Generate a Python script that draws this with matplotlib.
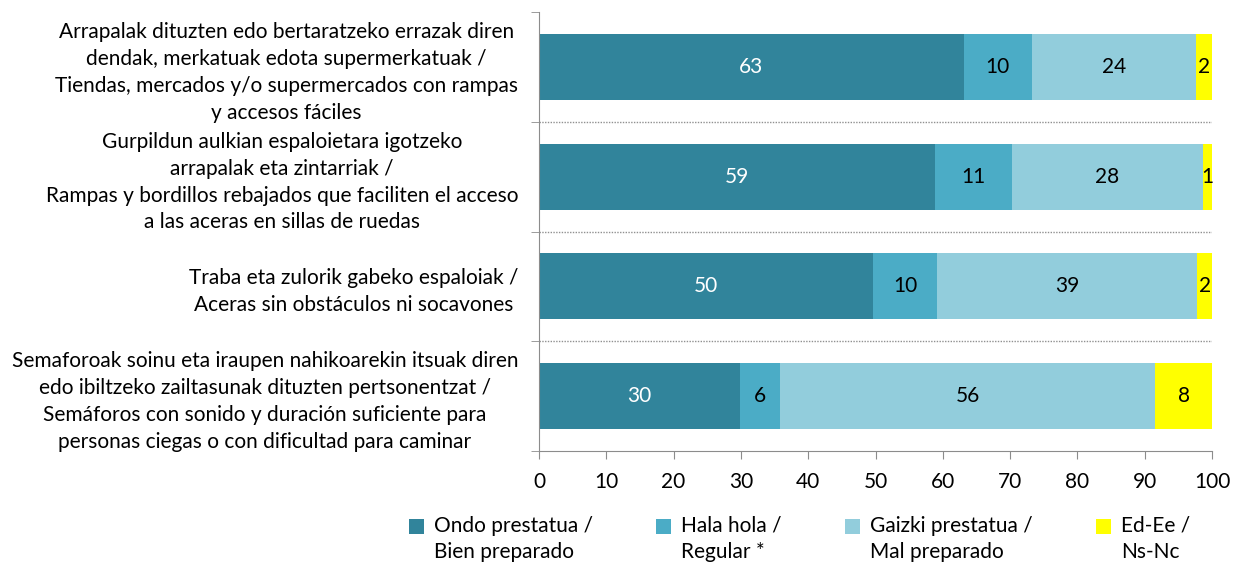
import matplotlib
matplotlib.use("Agg")
import matplotlib.pyplot as plt
from matplotlib.patches import Rectangle
import numpy as np

plt.rcParams['font.family'] = ['Lato', 'DejaVu Sans']

categorias = [
    "Arrapalak dituzten edo bertaratzeko errazak diren\ndendak, merkatuak edota supermerkatuak /\nTiendas, mercados y/o supermercados con rampas\ny accesos fáciles",
    "Gurpildun aulkian espaloietara igotzeko\narrapalak eta zintarriak /\nRampas y bordillos rebajados que faciliten el acceso\na las aceras en sillas de ruedas",
    "Traba eta zulorik gabeko espaloiak /\nAceras sin obstáculos ni socavones",
    "Semaforoak soinu eta iraupen nahikoarekin itsuak diren\nedo ibiltzeko zailtasunak dituzten pertsonentzat /\nSemáforos con sonido y duración suficiente para\npersonas ciegas o con dificultad para caminar",
]
ondo = [63.1, 58.9, 49.6, 29.8]
hala_hola = [10.1, 11.4, 9.6, 6.0]
gaizki = [24.4, 28.3, 38.6, 55.8]
ed_ee = [2.4, 1.4, 2.2, 8.4]

series = ["Ondo prestatua /\nBien preparado", "Hala hola /\nRegular *",
          "Gaizki prestatua /\nMal preparado", "Ed-Ee /\nNs-Nc"]
colores = ["#31849B", "#4BACC6", "#92CDDC", "#FFFF00"]
color_texto = ["white", "black", "black", "black"]

W, H = 1236, 565
fig = plt.figure(figsize=(W/100, H/100), dpi=100)
ax = fig.add_axes([539/W, 1-451/H, (1212-539)/W, (451-12)/H])

y = np.arange(len(categorias))
left = np.zeros(len(categorias))
for vals, col, tc in zip([ondo, hala_hola, gaizki, ed_ee], colores, color_texto):
    vals = np.array(vals)
    ax.barh(y, vals, left=left, height=0.6, color=col)
    for yi, l, v in zip(y, left, vals):
        ax.text(l + v/2, yi, f"{v:.0f}", ha="center", va="center",
                color=tc, fontsize=15)
    left += vals

for b in [0.5, 1.5, 2.5]:
    ax.axhline(b, color="#909090", linestyle=(0, (1, 1)), linewidth=1)

ax.set_xlim(0, 100)
ax.set_ylim(3.5, -0.5)
ax.set_xticks(range(0, 101, 10))
ax.set_yticks(y)
ax.set_yticklabels(categorias, fontsize=15, multialignment="center",
                   linespacing=1.43)
ax.set_yticks([-0.5, 0.5, 1.5, 2.5, 3.5], minor=True)
ax.tick_params(axis="y", which="major", length=0, pad=15)
ax.tick_params(axis="y", which="minor", length=6, color="#8C8C8C", direction="out")
ax.tick_params(axis="x", length=6, color="#8C8C8C", labelsize=15, pad=9)

for s in ["top", "right"]:
    ax.spines[s].set_visible(False)
for s in ["left", "bottom"]:
    ax.spines[s].set_color("#8C8C8C")

# legend drawn by hand: square next to the first text line
leg_x = [409, 656, 845, 1096]
for lx, lab, col in zip(leg_x, series, colores):
    fig.add_artist(Rectangle((lx/W, 1-534/H), 15/W, 15/H, facecolor=col,
                             edgecolor="none", transform=fig.transFigure))
    fig.text((lx+25)/W, 1-516/H, lab, ha="left", va="top", fontsize=15,
             linespacing=1.4)

fig.savefig("out.png", dpi=100)
